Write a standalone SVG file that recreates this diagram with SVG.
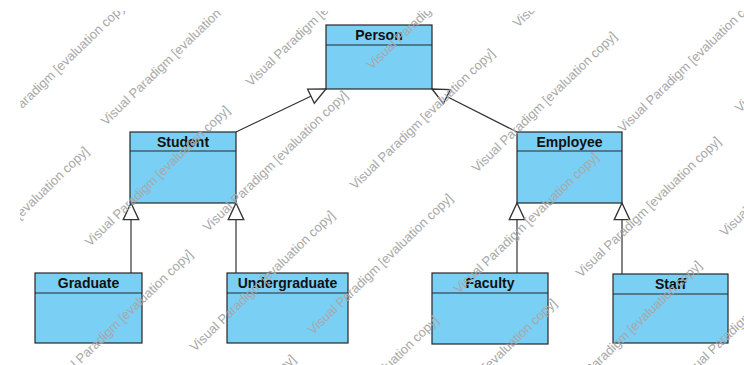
<svg xmlns="http://www.w3.org/2000/svg" width="744" height="365" viewBox="0 0 744 365">
<defs>
<style>
.box{fill:#7acff5;stroke:#262626;stroke-width:1.2}
.sep{stroke:#262626;stroke-width:1.2}
.name{font-family:"Liberation Sans",Arial,sans-serif;font-weight:bold;font-size:14px;fill:#111;text-anchor:middle}
.edge{stroke:#333;stroke-width:1.2;fill:none;marker-end:url(#gen)}
.wm text{font-family:"Liberation Sans",Arial,sans-serif;font-size:13px;fill:#a8a8a8}
</style>
<marker id="gen" markerUnits="userSpaceOnUse" markerWidth="20" markerHeight="20" viewBox="-16 -9 18 18" refX="0" refY="0" orient="auto">
<path d="M0,0 L-15,-7 L-15,7 Z" fill="#fff" stroke="#333" stroke-width="1.2"/>
</marker>
<clipPath id="wmclip"><rect x="20" y="11" width="724" height="354"/></clipPath>
</defs>
<rect x="0" y="0" width="744" height="365" fill="#fff"/>
<g id="connectors">
<line class="edge" x1="236" y1="132" x2="326" y2="89"/>
<line class="edge" x1="517" y1="132" x2="432" y2="89"/>
<line class="edge" x1="131" y1="273" x2="131" y2="203"/>
<line class="edge" x1="236" y1="273" x2="236" y2="203"/>
<line class="edge" x1="517" y1="273" x2="517" y2="203"/>
<line class="edge" x1="622" y1="274" x2="622" y2="203"/>
</g>
<g id="Person">
<rect class="box" x="326" y="25" width="106" height="64"/>
<line class="sep" x1="326" y1="45" x2="432" y2="45"/>
<text class="name" x="379" y="40">Person</text>
</g>
<g id="Student">
<rect class="box" x="130" y="132" width="106" height="71"/>
<line class="sep" x1="130" y1="151" x2="236" y2="151"/>
<text class="name" x="183" y="147">Student</text>
</g>
<g id="Employee">
<rect class="box" x="517" y="132" width="105" height="71"/>
<line class="sep" x1="517" y1="151" x2="622" y2="151"/>
<text class="name" x="569.5" y="147">Employee</text>
</g>
<g id="Graduate">
<rect class="box" x="35" y="273" width="107" height="70"/>
<line class="sep" x1="35" y1="293" x2="142" y2="293"/>
<text class="name" x="88.5" y="288">Graduate</text>
</g>
<g id="Undergraduate">
<rect class="box" x="227" y="273" width="121" height="70"/>
<line class="sep" x1="227" y1="293" x2="348" y2="293"/>
<text class="name" x="287.5" y="288">Undergraduate</text>
</g>
<g id="Faculty">
<rect class="box" x="432" y="273" width="116" height="71"/>
<line class="sep" x1="432" y1="293" x2="548" y2="293"/>
<text class="name" x="490" y="288">Faculty</text>
</g>
<g id="Staff">
<rect class="box" x="613" y="274" width="115" height="69"/>
<line class="sep" x1="613" y1="294" x2="728" y2="294"/>
<text class="name" x="670.5" y="289">Staff</text>
</g>
<g class="wm" clip-path="url(#wmclip)">
<text transform="translate(-12,142) rotate(-44)">Visual Paradigm [evaluation copy]</text>
<text transform="translate(106,126) rotate(-44)">Visual Paradigm [evaluation copy]</text>
<text transform="translate(251,87) rotate(-44)">Visual Paradigm [evaluation copy]</text>
<text transform="translate(372,70) rotate(-44)">Visual Paradigm [evaluation copy]</text>
<text transform="translate(518,28) rotate(-44)">Visual Paradigm [evaluation copy]</text>
<text transform="translate(-51,288) rotate(-44)">Visual Paradigm [evaluation copy]</text>
<text transform="translate(90,247) rotate(-44)">Visual Paradigm [evaluation copy]</text>
<text transform="translate(208,232) rotate(-44)">Visual Paradigm [evaluation copy]</text>
<text transform="translate(355,190) rotate(-44)">Visual Paradigm [evaluation copy]</text>
<text transform="translate(477,173) rotate(-44)">Visual Paradigm [evaluation copy]</text>
<text transform="translate(623,133) rotate(-44)">Visual Paradigm [evaluation copy]</text>
<text transform="translate(740,113) rotate(-44)">Visual Paradigm [evaluation copy]</text>
<text transform="translate(53,391) rotate(-44)">Visual Paradigm [evaluation copy]</text>
<text transform="translate(195,352) rotate(-44)">Visual Paradigm [evaluation copy]</text>
<text transform="translate(313,335) rotate(-44)">Visual Paradigm [evaluation copy]</text>
<text transform="translate(459,294) rotate(-44)">Visual Paradigm [evaluation copy]</text>
<text transform="translate(581,278) rotate(-44)">Visual Paradigm [evaluation copy]</text>
<text transform="translate(725,237) rotate(-44)">Visual Paradigm [evaluation copy]</text>
<text transform="translate(156,496) rotate(-44)">Visual Paradigm [evaluation copy]</text>
<text transform="translate(299,457) rotate(-44)">Visual Paradigm [evaluation copy]</text>
<text transform="translate(417,440) rotate(-44)">Visual Paradigm [evaluation copy]</text>
<text transform="translate(562,402) rotate(-44)">Visual Paradigm [evaluation copy]</text>
<text transform="translate(685,382) rotate(-44)">Visual Paradigm [evaluation copy]</text>
</g>
</svg>
